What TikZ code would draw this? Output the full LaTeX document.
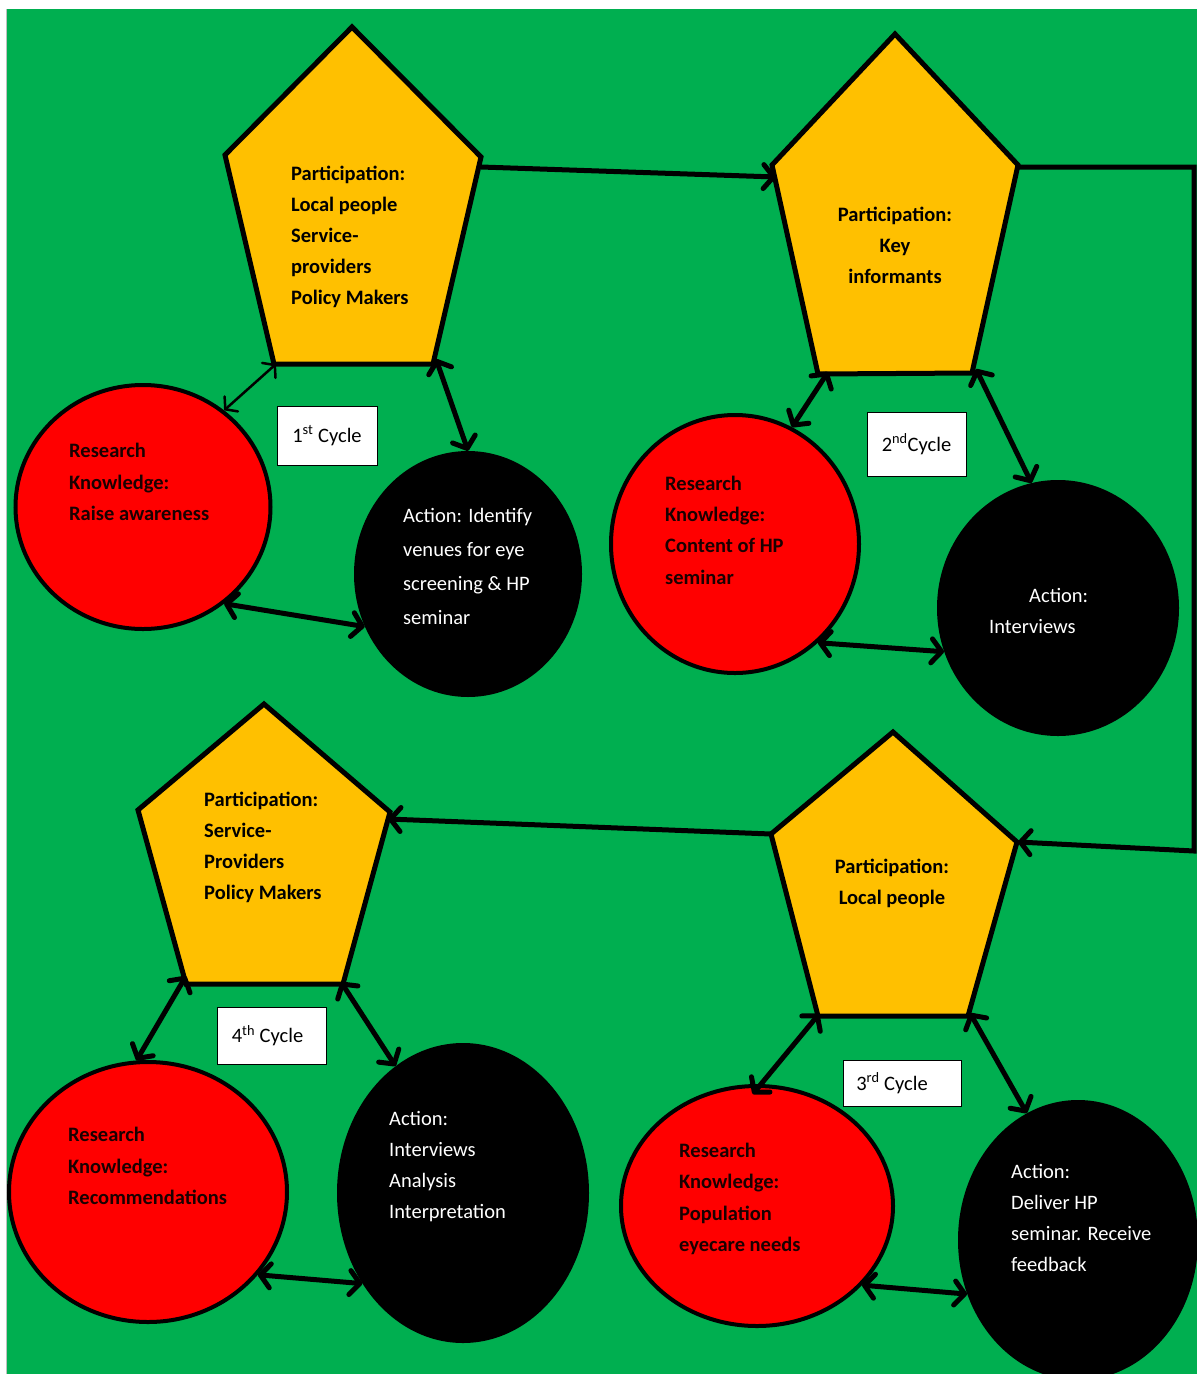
\documentclass[tikz,border=0pt]{standalone}
\usepackage{fontspec}
\setmainfont{Carlito}
\usetikzlibrary{arrows.meta,shapes.geometric}

\definecolor{bggreen}{HTML}{00AF50}
\definecolor{pentyellow}{HTML}{FFC000}
\definecolor{circred}{HTML}{FF0000}
\definecolor{darkred}{HTML}{1A0000}

\tikzset{
  pent/.style={draw=black, line width=5pt, fill=pentyellow, line join=miter},
  redcirc/.style={ellipse, draw=black, line width=4pt, fill=circred, inner sep=0pt},
  blackcirc/.style={ellipse, fill=black, inner sep=0pt},
  cyclebox/.style={draw=black, line width=0.8pt, fill=white, inner sep=0pt,
                   font=\fontsize{20.5}{24}\selectfont},
  ptext/.style={font=\fontsize{20.5}{31}\selectfont\bfseries, inner sep=0pt, text=black},
  rtext/.style={font=\fontsize{20.5}{31.3}\selectfont\bfseries, inner sep=0pt,
                text=darkred, align=left, anchor=west},
  atext/.style={font=\fontsize{20.5}{31}\selectfont, inner sep=0pt, text=white,
                align=left, anchor=west},
  barb/.tip={Straight Barb[length=10pt, width=24pt, line cap=round, line join=round]},
  flow/.style={line width=5pt, -barb},
  link/.style={line width=5pt, barb-barb},
  thinlink/.style={line width=2.5pt, {Straight Barb[length=8pt, width=20pt, line cap=round]}-{Straight Barb[length=8pt, width=20pt, line cap=round]}}
}

\begin{document}
\begin{tikzpicture}[x=1pt, y=-1pt]
  % canvas
  \useasboundingbox (0,0) rectangle (1197,1374);
  \fill[white] (0,0) rectangle (1197,1374);
  \fill[bggreen] (7,9) rectangle (1197,1374);
  \draw[black!25, line width=1pt] (6.5,9) -- (6.5,1374);

  % pentagon corners
  \coordinate (p1t) at (352,27);   \coordinate (p1ur) at (481,157);
  \coordinate (p1lr) at (433,364); \coordinate (p1ll) at (274,364);
  \coordinate (p1ul) at (225,155);
  \coordinate (p2t) at (895,34);   \coordinate (p2ur) at (1018,165);
  \coordinate (p2lr) at (972,373); \coordinate (p2ll) at (818,374);
  \coordinate (p2ul) at (772,165);
  \coordinate (p3t) at (893,732);  \coordinate (p3ur) at (1017,842);
  \coordinate (p3lr) at (968,1016);\coordinate (p3ll) at (818,1016);
  \coordinate (p3ul) at (771,834);
  \coordinate (p4t) at (264,704);  \coordinate (p4ur) at (390,812);
  \coordinate (p4lr) at (343,984); \coordinate (p4ll) at (186,984);
  \coordinate (p4ul) at (138,810);

  % ends of the links between the cycles
  \coordinate (out1) at (481,167);
  \coordinate (in2) at (776,177);
  \coordinate (out2) at (1018,167);
  \coordinate (turnA) at (1194,167);
  \coordinate (turnB) at (1194,851);
  \coordinate (in3) at (1018,842);
  \coordinate (out3) at (771,834);
  \coordinate (in4) at (388,819);

  % links between the cycles
  \draw[flow] (out1) -- (in2);
  \draw[flow, line join=miter] (out2) -- (turnA) -- (turnB) -- (in3);
  \draw[flow] (out3) -- (in4);

  % participation pentagons
  \draw[pent] (p1t) -- (p1ur) -- (p1lr) -- (p1ll) -- (p1ul) -- cycle;
  \draw[pent] (p2t) -- (p2ur) -- (p2lr) -- (p2ll) -- (p2ul) -- cycle;
  \draw[pent] (p3t) -- (p3ur) -- (p3lr) -- (p3ll) -- (p3ul) -- cycle;
  \draw[pent] (p4t) -- (p4ur) -- (p4lr) -- (p4ll) -- (p4ul) -- cycle;

  % research and action circles
  \node[redcirc, minimum width=255pt, minimum height=244pt] (r1) at (143,507) {};
  \node[blackcirc, minimum width=228pt, minimum height=246pt] (a1) at (468,574) {};
  \node[redcirc, minimum width=248pt, minimum height=258pt] (r2) at (735,544) {};
  \node[blackcirc, minimum width=242pt, minimum height=256pt] (a2) at (1058,608) {};
  \node[redcirc, minimum width=272pt, minimum height=240pt] (r3) at (757,1206) {};
  \node[blackcirc, minimum width=240pt, minimum height=280pt] (a3) at (1078,1240) {};
  \node[redcirc, minimum width=278pt, minimum height=260pt] (r4) at (148,1192) {};
  \node[blackcirc, minimum width=252pt, minimum height=300pt] (a4) at (463,1193) {};

  % two-way links inside each cycle
  \draw[thinlink] ([xshift=2pt]p1ll) -- (r1.50);
  \draw[link] ([xshift=3pt,yshift=5pt]p1lr) -- (a1.90);
  \draw[link] (r1.-50) -- (a1.207);

  \draw[link] ([xshift=10pt,yshift=2pt]p2ll) -- (r2.64);
  \draw[link] ([xshift=4pt,yshift=4pt]p2lr) -- (a2.102);
  \draw[link] (r2.-50) -- (a2.201);

  \draw[link] ([xshift=1pt,yshift=2pt]p3ll) -- ([yshift=-10pt]r3.92);
  \draw[link] ([xshift=2pt,yshift=3pt]p3lr) -- (a3.112);
  \draw[link] (r3.-37) -- (a3.206);

  \draw[link] ([yshift=8pt]p4ll) -- (r4.95);
  \draw[link] ([xshift=-2pt,yshift=2pt]p4lr) -- (a4.118);
  \draw[link] (r4.-37) -- (a4.222);

  % cycle labels
  \node[cyclebox, minimum width=100pt, minimum height=59pt] (c1) at (327,435.5) {1\textsuperscript{st} Cycle};
  \node[cyclebox, minimum width=99pt, minimum height=64pt] (c2) at (916.5,444) {2\textsuperscript{nd}Cycle};
  \node[cyclebox, minimum width=118pt, minimum height=46pt] (c3) at (902,1083) {\hspace*{-20pt}3\textsuperscript{rd} Cycle};
  \node[cyclebox, minimum width=109pt, minimum height=57pt] (c4) at (271.5,1035.5) {\hspace*{-8pt}4\textsuperscript{th} Cycle};

  % participation texts
  \node[ptext, align=left, anchor=west] (t1) at (291,237)
    {Participation:\\Local people\\Service-\\providers\\Policy Makers};
  \node[ptext, align=center] (t2) at (895,245)
    {Participation:\\Key\\informants};
  \node[ptext, align=center] (t3) at (892,883)
    {Participation:\\Local people};
  \node[ptext, align=left, anchor=west] (t4) at (204,847)
    {Participation:\\Service-\\Providers\\Policy Makers};

  % research texts
  \node[rtext] (k1) at (69,482) {Research\\Knowledge:\\Raise awareness};
  \node[rtext] (k2) at (665,530) {Research\\Knowledge:\\Content of HP\\seminar};
  \node[rtext] (k3) at (679,1199) {Research\\Knowledge:\\Population\\eyecare needs};
  \node[rtext] (k4) at (68,1166) {Research\\Knowledge:\\Recommendations};

  % action texts
  \node[atext, font=\fontsize{20.5}{34}\selectfont] (x1) at (403,566)
    {Action: Identify\\venues for eye\\screening \& HP\\seminar};
  \node[atext] (x2) at (989,611) {\hspace*{40pt}Action:\\Interviews};
  \node[atext] (x3) at (1011,1218) {Action:\\Deliver HP\\seminar. Receive\\feedback};
  \node[atext] (x4) at (389,1167) {Action:\\Interviews\\Analysis\\Interpretation};
\end{tikzpicture}
\end{document}
